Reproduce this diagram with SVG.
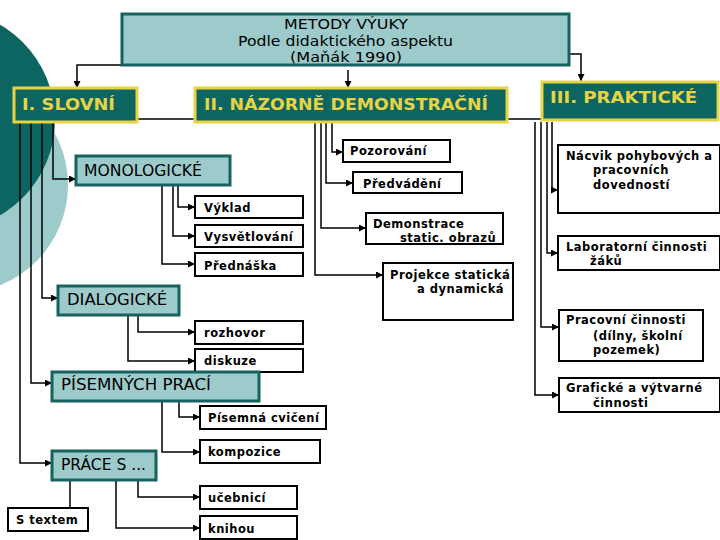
<svg xmlns="http://www.w3.org/2000/svg" width="720" height="540" viewBox="0 0 720 540">
<style>
.bg{fill:#ffffff}
.title{fill:#9dcbcb;stroke:#16625e;stroke-width:3}
.head{fill:#0d6561;stroke:#e6d445;stroke-width:3}
.cat{fill:#9dcbcb;stroke:#16625e;stroke-width:3}
.leaf{fill:#ffffff;stroke:#000;stroke-width:2}
.ht{font-family:"DejaVu Sans","Liberation Sans",sans-serif;font-weight:bold;font-size:16px;fill:#e6d445}
.tt{font-family:"DejaVu Sans","Liberation Sans",sans-serif;font-size:14.5px;fill:#000}
.ct{font-family:"DejaVu Sans","Liberation Sans",sans-serif;font-size:15px;fill:#000}
.lt{font-family:"DejaVu Sans","Liberation Sans",sans-serif;font-weight:bold;font-size:11.5px;fill:#000;letter-spacing:0.5px}
.con path{fill:none;stroke:#000;stroke-width:1.5}
</style>
<defs>
<marker id="ah" markerUnits="userSpaceOnUse" markerWidth="7" markerHeight="7" refX="7" refY="3.5" orient="auto">
<path d="M0,0 L7,3.5 L0,7 z" fill="#000"/>
</marker>
</defs>
<rect class="bg" x="0" y="0" width="720" height="540"/>
<circle cx="-40" cy="185" r="108" fill="#9dcbcb"/>
<circle cx="-55" cy="120" r="110" fill="#0d6561"/>

<g id="connectors" class="con">
<path d="M240,65 H77 V88" marker-end="url(#ah)"/>
<path d="M348,70 V88" marker-end="url(#ah)"/>
<path d="M473,54 H581 V81" marker-end="url(#ah)"/>
<path d="M137,119 H195"/>
<path d="M507,119 H542"/>
<path d="M53,122 V179 H76" marker-end="url(#ah)"/>
<path d="M42,122 V298 H58" marker-end="url(#ah)"/>
<path d="M31,122 V383 H52" marker-end="url(#ah)"/>
<path d="M20,122 V463 H52" marker-end="url(#ah)"/>
<path d="M178,186 V207 H195" marker-end="url(#ah)"/>
<path d="M173,186 V236 H195" marker-end="url(#ah)"/>
<path d="M162,186 V264 H195" marker-end="url(#ah)"/>
<path d="M138,316 V332 H195" marker-end="url(#ah)"/>
<path d="M128,316 V361 H195" marker-end="url(#ah)"/>
<path d="M179,401 V417 H200" marker-end="url(#ah)"/>
<path d="M162,401 V452 H200" marker-end="url(#ah)"/>
<path d="M70,480 V508"/>
<path d="M138,480 V497 H200" marker-end="url(#ah)"/>
<path d="M116,480 V528 H200" marker-end="url(#ah)"/>
<path d="M332,122 V152 H343" marker-end="url(#ah)"/>
<path d="M326,122 V183 H353" marker-end="url(#ah)"/>
<path d="M321,122 V228 H366" marker-end="url(#ah)"/>
<path d="M315,122 V275 H383" marker-end="url(#ah)"/>
<path d="M552,122 V190 H558" marker-end="url(#ah)"/>
<path d="M547,122 V253 H558" marker-end="url(#ah)"/>
<path d="M541,122 V327 H559" marker-end="url(#ah)"/>
<path d="M535,122 V395 H559" marker-end="url(#ah)"/>
</g>

<g id="title">
<rect class="title" x="122" y="14" width="447" height="51"/>
<text class="tt" x="284" y="29" textLength="124" lengthAdjust="spacingAndGlyphs">METODY VÝUKY</text>
<text class="tt" x="238" y="46" textLength="215" lengthAdjust="spacingAndGlyphs">Podle didaktického aspektu</text>
<text class="tt" x="290" y="62" textLength="112" lengthAdjust="spacingAndGlyphs">(Maňák 1990)</text>
</g>

<g id="slovni">
<rect class="head" x="14" y="88" width="123" height="34"/>
<text class="ht" x="22" y="110" textLength="93" lengthAdjust="spacingAndGlyphs">I. SLOVNÍ</text>
</g>
<g id="nazorne">
<rect class="head" x="195" y="88" width="312" height="34"/>
<text class="ht" x="204" y="110" textLength="284" lengthAdjust="spacingAndGlyphs">II. NÁZORNĚ DEMONSTRAČNÍ</text>
</g>
<g id="prakticke">
<rect class="head" x="542" y="82" width="176" height="38"/>
<text class="ht" x="550" y="103" textLength="147" lengthAdjust="spacingAndGlyphs">III. PRAKTICKÉ</text>
</g>

<g id="monologicke">
<rect class="cat" x="76" y="156" width="154" height="29"/>
<text class="ct" x="84" y="176" textLength="118" lengthAdjust="spacingAndGlyphs">MONOLOGICKÉ</text>
</g>
<g id="vyklad"><rect class="leaf" x="195" y="196" width="108" height="22"/><text class="lt" x="204" y="212">Výklad</text></g>
<g id="vysvetlovani"><rect class="leaf" x="195" y="225" width="108" height="22"/><text class="lt" x="204" y="241">Vysvětlování</text></g>
<g id="prednaska"><rect class="leaf" x="195" y="253" width="108" height="23"/><text class="lt" x="204" y="270">Přednáška</text></g>

<g id="dialogicke">
<rect class="cat" x="58" y="286" width="121" height="29"/>
<text class="ct" x="67" y="305" textLength="100" lengthAdjust="spacingAndGlyphs">DIALOGICKÉ</text>
</g>
<g id="rozhovor"><rect class="leaf" x="195" y="321" width="108" height="23"/><text class="lt" x="204" y="337">rozhovor</text></g>
<g id="diskuze"><rect class="leaf" x="195" y="349" width="108" height="23"/><text class="lt" x="204" y="365">diskuze</text></g>

<g id="pisemnych">
<rect class="cat" x="52" y="372" width="207" height="29"/>
<text class="ct" x="61" y="390" textLength="150" lengthAdjust="spacingAndGlyphs">PÍSEMNÝCH PRACÍ</text>
</g>
<g id="pisemna"><rect class="leaf" x="200" y="406" width="126" height="23"/><text class="lt" x="208" y="422">Písemná cvičení</text></g>
<g id="kompozice"><rect class="leaf" x="200" y="440" width="120" height="23"/><text class="lt" x="208" y="456">kompozice</text></g>

<g id="prace">
<rect class="cat" x="52" y="451" width="104" height="29"/>
<text class="ct" x="61" y="470" textLength="85" lengthAdjust="spacingAndGlyphs">PRÁCE S ...</text>
</g>
<g id="stextem"><rect class="leaf" x="8" y="508" width="80" height="23"/><text class="lt" x="16" y="524">S textem</text></g>
<g id="ucebnici"><rect class="leaf" x="200" y="486" width="97" height="23"/><text class="lt" x="208" y="502">učebnicí</text></g>
<g id="knihou"><rect class="leaf" x="200" y="516" width="97" height="23"/><text class="lt" x="208" y="533">knihou</text></g>

<g id="pozorovani"><rect class="leaf" x="343" y="140" width="107" height="22"/><text class="lt" x="350" y="155">Pozorování</text></g>
<g id="predvadeni"><rect class="leaf" x="353" y="172" width="109" height="21"/><text class="lt" x="363" y="188">Předvádění</text></g>
<g id="demonstrace"><rect class="leaf" x="366" y="213" width="137" height="31"/>
<text class="lt" x="373" y="228">Demonstrace</text><text class="lt" x="400" y="242">static. obrazů</text></g>
<g id="projekce"><rect class="leaf" x="383" y="263" width="130" height="57"/>
<text class="lt" x="390" y="279">Projekce statická</text><text class="lt" x="417" y="293">a dynamická</text></g>

<g id="nacvik"><rect class="leaf" x="558" y="145" width="162" height="68"/>
<text class="lt" x="566" y="160">Nácvik pohybových a</text><text class="lt" x="593" y="174">pracovních</text><text class="lt" x="593" y="189">dovedností</text></g>
<g id="laboratorni"><rect class="leaf" x="558" y="236" width="162" height="34"/>
<text class="lt" x="566" y="251">Laboratorní činnosti</text><text class="lt" x="590" y="265">žáků</text></g>
<g id="pracovni"><rect class="leaf" x="559" y="310" width="144" height="51"/>
<text class="lt" x="566" y="324">Pracovní činnosti</text><text class="lt" x="593" y="340">(dílny, školní</text><text class="lt" x="593" y="354">pozemek)</text></g>
<g id="graficke"><rect class="leaf" x="559" y="378" width="161" height="34"/>
<text class="lt" x="566" y="392">Grafické a výtvarné</text><text class="lt" x="593" y="407">činnosti</text></g>
</svg>
